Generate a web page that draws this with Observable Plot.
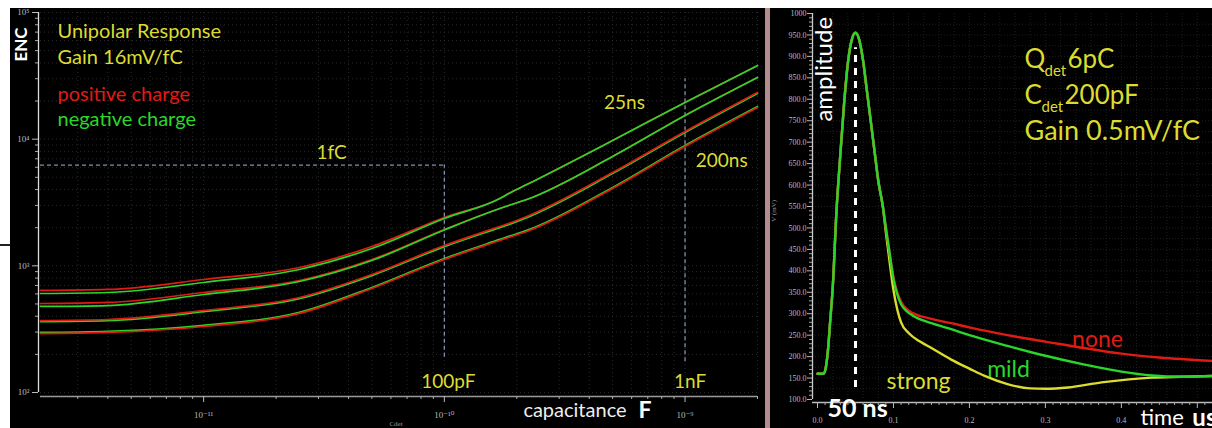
<!DOCTYPE html>
<html><head><meta charset="utf-8">
<script src="https://cdn.jsdelivr.net/npm/d3@7"></script>
<script src="https://cdn.jsdelivr.net/npm/@observablehq/plot@0.6"></script>
<style>
html,body{margin:0;padding:0;background:#fff;overflow:hidden;}
#wrap{position:relative;width:1212px;height:428px;overflow:hidden;background:#fff;}
#left{position:absolute;left:10px;top:8px;width:755px;height:420px;}
#right{position:absolute;left:770px;top:8px;width:442px;height:420px;}
#divider{position:absolute;left:765px;top:8px;width:5px;height:420px;background:#b48c8c;}
#mark{position:absolute;left:0;top:244px;width:10px;height:2px;background:#222;}
svg{display:block;}
</style></head>
<body><div id="wrap"><div id="left"></div><div id="divider"></div><div id="right"></div><div id="mark"></div></div>
<script>
// ---------- LEFT PANEL DATA: ENC (electrons) vs detector capacitance (F) ----------
const capacitanceF = [2.1e-12, 4e-12, 1e-11, 2.5e-11, 5e-11, 1e-10, 1.7e-10, 1.85e-10, 2.2e-10, 5e-10, 1e-9, 2.0e-9];
const encPos25  = [639, 651, 780, 970, 1421, 2407, 3400, 3720, 4380, 9761, 19480, 38150];
const encNeg25  = [605, 616, 739, 936, 1370, 2364, 3400, 3720, 4380, 9761, 19480, 38150];
const encPos50  = [504, 514, 616, 766, 1122, 1936, 2836, 2995, 3340, 7298, 15380, 30680];
const encNeg50  = [478, 486, 594, 752, 1102, 1920, 2836, 2995, 3340, 7298, 15380, 30680];
const encPos100 = [370, 377, 444, 562, 854, 1447, 2045, 2160, 2452, 5457, 11500, 23360];
const encNeg100 = [362, 369, 435, 551, 837, 1418, 2004, 2117, 2403, 5348, 11270, 22890];
const encPos200 = [292, 298, 332, 421, 662, 1122, 1585, 1674, 1867, 4078, 8753, 17780];
const encNeg200 = [298, 304, 339, 429, 675, 1144, 1617, 1707, 1904, 4160, 8930, 18140];
const capDomain = [2.1e-12, 2.0e-9];
const encDomain = [1e2, 1e5];
const oneFcElectrons = 6242;
const markerCaps = [1e-10, 1e-9];

// ---------- RIGHT PANEL DATA: amplitude (mV) vs time (us) ----------
const riseTime = [0, 0.008, 0.011, 0.014, 0.017, 0.020, 0.025, 0.030, 0.035, 0.040, 0.045, 0.050, 0.055, 0.060, 0.065, 0.070, 0.075, 0.080, 0.086];
const riseMv   = [160, 160, 175, 220, 290, 360, 540, 670, 790, 885, 938, 955, 938, 890, 820, 750, 680, 610, 550];
const noneTime = [0.090, 0.095, 0.100, 0.105, 0.110, 0.118, 0.125, 0.150, 0.176, 0.200, 0.250, 0.300, 0.350, 0.400, 0.450, 0.520];
const noneMv   = [500, 440, 385, 350, 328, 310, 302, 288, 278, 268, 250, 235, 220, 207, 198, 190];
const mildTime = [0.090, 0.095, 0.100, 0.105, 0.110, 0.118, 0.125, 0.150, 0.176, 0.200, 0.250, 0.300, 0.350, 0.400, 0.440, 0.480, 0.520];
const mildMv   = [500, 440, 380, 345, 322, 305, 296, 278, 264, 250, 225, 202, 182, 165, 156, 153, 155];
const strongTime = [0.090, 0.095, 0.100, 0.105, 0.110, 0.120, 0.135, 0.150, 0.176, 0.200, 0.220, 0.250, 0.280, 0.300, 0.330, 0.374, 0.410, 0.440, 0.480, 0.520];
const strongMv   = [490, 420, 355, 310, 280, 255, 235, 220, 193, 172, 155, 136, 126, 125, 128, 140, 147, 151, 153, 155];
const timeDomain = [-0.0066, 0.52];
const mvDomain = [100, 1000];
const peakTime = 0.05;

// ---------- COLOURS / HELPERS ----------
const RED = "#e01b14", GREEN = "#2bd62b", YELLOW = "#dcdc30", DASH = "#7d8fb0";
const FONT = "Lato, 'Open Sans', sans-serif";
const SERIF = "'Liberation Serif', 'DejaVu Serif', serif";
const sup = n => String(n).replace(/-/g, "\u207B").replace(/\d/g, d => "\u2070\u00B9\u00B2\u00B3\u2074\u2075\u2076\u2077\u2078\u2079"[d]);
const decadeLabel = v => "10" + sup(Math.round(Math.log10(v)));
function logTicks(lo, hi, mults) {
  const out = [];
  for (let e = Math.floor(Math.log10(lo)) - 1; e <= Math.ceil(Math.log10(hi)); e++)
    for (const m of mults) { const v = m * Math.pow(10, e); if (v >= lo * 0.999 && v <= hi * 1.001) out.push(+v.toPrecision(6)); }
  return out;
}
const label = (txt, x, y, opts) => Plot.text([txt], {x: [x], y: [y], text: d => d, ...opts});
const frameLabel = (txt, opts) => Plot.text([txt], {text: d => d, lineAnchor: "middle", ...opts});

// ---------- LEFT PLOT ----------
const seriesOrder = [
  ["neg100", encNeg100, GREEN], ["neg200", encNeg200, GREEN],
  ["pos25", encPos25, RED], ["pos50", encPos50, RED], ["pos100", encPos100, RED], ["pos200", encPos200, RED],
  ["neg25", encNeg25, GREEN], ["neg50", encNeg50, GREEN]
];
const encRows = seriesOrder.flatMap(([key, arr, color]) => arr.map((v, i) => ({c: capacitanceF[i], enc: v, key, color})));

const majorX = logTicks(capDomain[0], capDomain[1], [1]);
const minorX = logTicks(capDomain[0], capDomain[1], [2,3,4,5,6,7,8,9]);
const majorY = logTicks(encDomain[0], encDomain[1], [1]);
const minorY = logTicks(encDomain[0], encDomain[1], [2,3,4,5,6,7,8,9]);

const left = Plot.plot({
  width: 755, height: 420,
  marginLeft: 30, marginRight: 8, marginTop: 4, marginBottom: 36,
  style: {background: "#000", color: "#ddd", fontFamily: FONT},
  x: {type: "log", domain: capDomain},
  y: {type: "log", domain: encDomain},
  marks: [
    Plot.ruleX(minorX.concat(majorX), {stroke: "#333", strokeWidth: 0.8, strokeDasharray: "1,3"}),
    Plot.ruleY(minorY.concat(majorY), {stroke: "#333", strokeWidth: 0.8, strokeDasharray: "1,3"}),
    Plot.ruleY([oneFcElectrons], {x1: capDomain[0], x2: markerCaps[0], stroke: DASH, strokeWidth: 1.3, strokeDasharray: "4,3"}),
    Plot.ruleX([markerCaps[0]], {y1: 190, y2: oneFcElectrons, stroke: DASH, strokeWidth: 1.3, strokeDasharray: "4,3"}),
    Plot.ruleX([markerCaps[1]], {y1: 175, y2: 30000, stroke: DASH, strokeWidth: 1.3, strokeDasharray: "4,3"}),
    Plot.line(encRows, {x: "c", y: "enc", z: "key", stroke: d => d.color, strokeWidth: 1.7, curve: "monotone-x"}),
    // axes
    Plot.ruleY([encDomain[0]], {stroke: "#9a9a9a", strokeWidth: 1.5, dy: 4}),
    Plot.ruleX([capDomain[0]], {stroke: "#dddddd", strokeWidth: 1.3, dx: -2}),
    Plot.axisX(minorX, {tickSize: 3, tickFormat: () => "", stroke: "#aaa", label: null, dy: 4}),
    Plot.axisX(majorX, {tickSize: 6, tickPadding: 9, tickFormat: decadeLabel, color: "#bbb", fontFamily: SERIF, fontSize: 9, label: null, dy: 4}),
    Plot.axisY(minorY, {tickSize: 3, tickFormat: () => "", stroke: "#aaa", label: null, dx: -2}),
    Plot.axisY(majorY, {tickSize: 6, tickPadding: 3, tickFormat: decadeLabel, color: "#bbb", fontFamily: SERIF, fontSize: 9, label: null, dx: -2}),
    // annotations
    frameLabel("Unipolar Response", {frameAnchor: "top-left", dx: 17, dy: 19, textAnchor: "start", fill: YELLOW, fontSize: 20}),
    frameLabel("Gain 16mV/fC", {frameAnchor: "top-left", dx: 17, dy: 45, textAnchor: "start", fill: YELLOW, fontSize: 20}),
    frameLabel("positive charge", {frameAnchor: "top-left", dx: 17, dy: 82, textAnchor: "start", fill: RED, fontSize: 20}),
    frameLabel("negative charge", {frameAnchor: "top-left", dx: 17, dy: 107, textAnchor: "start", fill: GREEN, fontSize: 20}),
    frameLabel("ENC", {frameAnchor: "top-left", dx: -19, dy: 32, textAnchor: "middle", rotate: -90, fill: "#fff", fontSize: 17, fontWeight: "bold"}),
    label("1fC", 3.4e-11, oneFcElectrons, {dy: -12, fill: YELLOW, fontSize: 19}),
    label("25ns", 5.6e-10, 19480, {fill: YELLOW, fontSize: 19}),
    label("200ns", 1.42e-9, 6785, {fill: YELLOW, fontSize: 19}),
    label("100pF", markerCaps[0], encDomain[0], {dx: 4, dy: -11, fill: YELLOW, fontSize: 19}),
    label("1nF", markerCaps[1], encDomain[0], {dx: 5, dy: -11, fill: YELLOW, fontSize: 19}),
    label("capacitance", 2.13e-10, encDomain[0], {dy: 18, textAnchor: "start", fill: "#eee", fontSize: 20}),
    label("F", 6.4e-10, encDomain[0], {dy: 18, textAnchor: "start", fill: "#fff", fontSize: 23, fontWeight: "bold"}),
    label("Cdet", 6.3e-11, encDomain[0], {dy: 31, fill: "#999", fontSize: 7, fontFamily: SERIF})
  ]
});
document.getElementById("left").appendChild(left);

// ---------- RIGHT PLOT ----------
const pulseRows = [
  ...[...riseTime, ...strongTime].map((t, i) => ({t, v: [...riseMv, ...strongMv][i], k: "strong"})),
  ...[...riseTime, ...noneTime].map((t, i) => ({t, v: [...riseMv, ...noneMv][i], k: "none"})),
  ...[...riseTime, ...mildTime].map((t, i) => ({t, v: [...riseMv, ...mildMv][i], k: "mild"}))
];
const pulseColor = {strong: YELLOW, none: RED, mild: GREEN};
const mvMajor = d3.range(100, 1001, 50);
const mvMinor = d3.range(100, 1001, 10).filter(v => v % 50);
const tMajor = d3.range(0, 0.51, 0.1).map(v => +v.toFixed(2));
const tMinor = d3.range(0, 0.521, 0.01).map(v => +v.toFixed(2)).filter(v => Math.round(v * 100) % 10);

const right = Plot.plot({
  width: 442, height: 420,
  marginLeft: 42, marginRight: 0, marginTop: 5, marginBottom: 29,
  style: {background: "#000", color: "#ddd", fontFamily: FONT},
  x: {domain: timeDomain},
  y: {domain: mvDomain},
  marks: [
    Plot.ruleX(d3.range(0.02, 0.52, 0.02), {stroke: "#262626", strokeWidth: 0.8, strokeDasharray: "1,2"}),
    Plot.ruleY(d3.range(125, 1000, 25), {stroke: "#262626", strokeWidth: 0.8, strokeDasharray: "1,2"}),
    Plot.line(pulseRows, {x: "t", y: "v", z: "k", stroke: d => pulseColor[d.k], strokeWidth: 2.4, curve: "monotone-x"}),
    Plot.ruleX([peakTime], {y1: 128, y2: 920, stroke: "#fff", strokeWidth: 3, strokeDasharray: "7,6"}),
    // axes
    Plot.ruleY([mvDomain[0]], {stroke: "#bbb", strokeWidth: 1.3, dy: 3}),
    Plot.ruleX([timeDomain[0]], {stroke: "#ccc", strokeWidth: 1.3}),
    Plot.axisY(mvMinor, {tickSize: 3, tickFormat: () => "", stroke: "#aaa", label: null}),
    Plot.axisY(mvMajor, {tickSize: 5, tickPadding: 1, tickFormat: d => d === 1000 ? "1000" : d.toFixed(1), color: "#bbb", fontFamily: SERIF, fontSize: 8, label: null}),
    Plot.axisX(tMinor, {tickSize: 3, tickFormat: () => "", stroke: "#aaa", label: null, dy: 3}),
    Plot.axisX(tMajor, {tickSize: 6, tickPadding: 9, tickFormat: d => d >= 0.5 ? "" : d.toFixed(1), color: "#bbb", fontFamily: SERIF, fontSize: 8, label: null, dy: 3}),
    // annotations
    label("V (mV)", timeDomain[0], 540, {dx: -39, rotate: -90, fill: "#999", fontSize: 7, fontFamily: SERIF}),
    label("amplitude", timeDomain[0], 870, {dx: 12, rotate: -90, fill: "#fff", fontSize: 24}),
    label("Q", 0.2725, 893, {textAnchor: "start", fill: YELLOW, fontSize: 26}),
    label("det", 0.2988, 866, {textAnchor: "start", fill: YELLOW, fontSize: 15}),
    label("6pC", 0.3291, 893, {textAnchor: "start", fill: YELLOW, fontSize: 26}),
    label("C", 0.2725, 809, {textAnchor: "start", fill: YELLOW, fontSize: 26}),
    label("det", 0.2949, 782, {textAnchor: "start", fill: YELLOW, fontSize: 15}),
    label("200pF", 0.3252, 809, {textAnchor: "start", fill: YELLOW, fontSize: 26}),
    label("Gain 0.5mV/fC", 0.2725, 725, {textAnchor: "start", fill: YELLOW, fontSize: 27}),
    label("none", 0.3686, 240, {fill: RED, fontSize: 23}),
    label("mild", 0.2515, 170, {fill: GREEN, fontSize: 23}),
    label("strong", 0.133, 142, {fill: YELLOW, fontSize: 23}),
    label("50 ns", 0.0527, 79, {fill: "#fff", fontSize: 25, fontWeight: "bold"}),
    label("time", 0.4252, 56, {textAnchor: "start", fill: "#fff", fontSize: 22}),
    label("us", 0.4935, 56, {textAnchor: "start", fill: "#fff", fontSize: 24, fontWeight: "bold"})
  ]
});
document.getElementById("right").appendChild(right);
</script></body></html>
